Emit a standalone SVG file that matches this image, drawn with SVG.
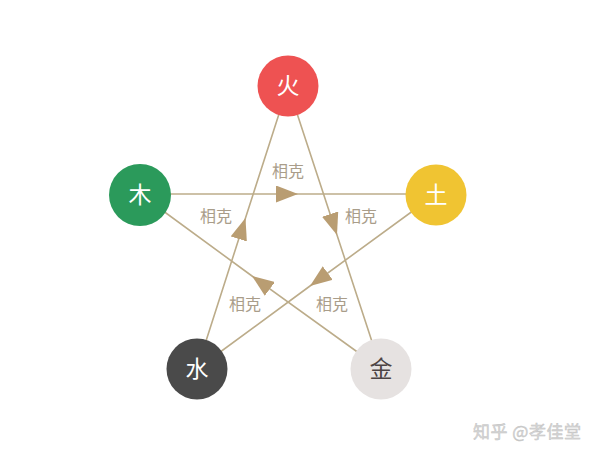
<svg xmlns="http://www.w3.org/2000/svg" width="600" height="453" viewBox="0 0 600 453">
<style>
.ln{stroke:#bcac8a;stroke-width:1.6;fill:none;marker-mid:url(#arr)}
.lbl{font-family:"Noto Sans CJK SC","Noto Sans",sans-serif;font-size:16px;fill:#a99d8a;text-anchor:middle}
.nt{font-family:"Noto Sans CJK SC","Noto Sans",sans-serif;font-size:23px;fill:#ffffff;text-anchor:middle}
.wm{font-family:"Noto Sans CJK SC","Noto Sans",sans-serif;font-size:17px;fill:#d6d6d6;stroke:#c0c0c0;stroke-width:0.4;letter-spacing:0.5px}
</style>
<defs>
<marker id="arr" viewBox="0 0 22 17" refX="22" refY="8.5" markerWidth="22" markerHeight="17" markerUnits="userSpaceOnUse" orient="auto">
<path d="M0,0 L22,8.5 L0,17 z" fill="#b99d72"/>
</marker>
</defs>
<rect width="600" height="453" fill="#ffffff"/>
<g id="connectors">
<path class="ln" d="M140,194 L298,194 L436,194"/>
<path class="ln" d="M288,86 L337,235 L381,369"/>
<path class="ln" d="M197,369 L245.5,218 L288,86"/>
<path class="ln" d="M381,369 L252,276 L140,194"/>
<path class="ln" d="M436,194 L310,286 L197,369"/>
</g>
<g id="labels">
<text class="lbl" x="288" y="177">相克</text>
<text class="lbl" x="216" y="222">相克</text>
<text class="lbl" x="361" y="222">相克</text>
<text class="lbl" x="245" y="310">相克</text>
<text class="lbl" x="332" y="310">相克</text>
</g>
<g id="fire"><circle cx="288" cy="86" r="30.5" fill="#ee5252"/><text class="nt" x="288" y="94">火</text></g>
<g id="wood"><circle cx="140" cy="195" r="31" fill="#2b9a5b"/><text class="nt" x="140" y="203">木</text></g>
<g id="earth"><circle cx="436" cy="195" r="30.5" fill="#f0c432"/><text class="nt" x="436" y="203">土</text></g>
<g id="water"><circle cx="197" cy="369" r="30.5" fill="#4a4a4a"/><text class="nt" x="197" y="377">水</text></g>
<g id="metal"><circle cx="381" cy="369" r="30.5" fill="#e6e2e1"/><text class="nt" x="381" y="377" style="fill:#4d4444">金</text></g>
<text class="wm" x="473" y="438">知乎 @孝佳堂</text>
</svg>
